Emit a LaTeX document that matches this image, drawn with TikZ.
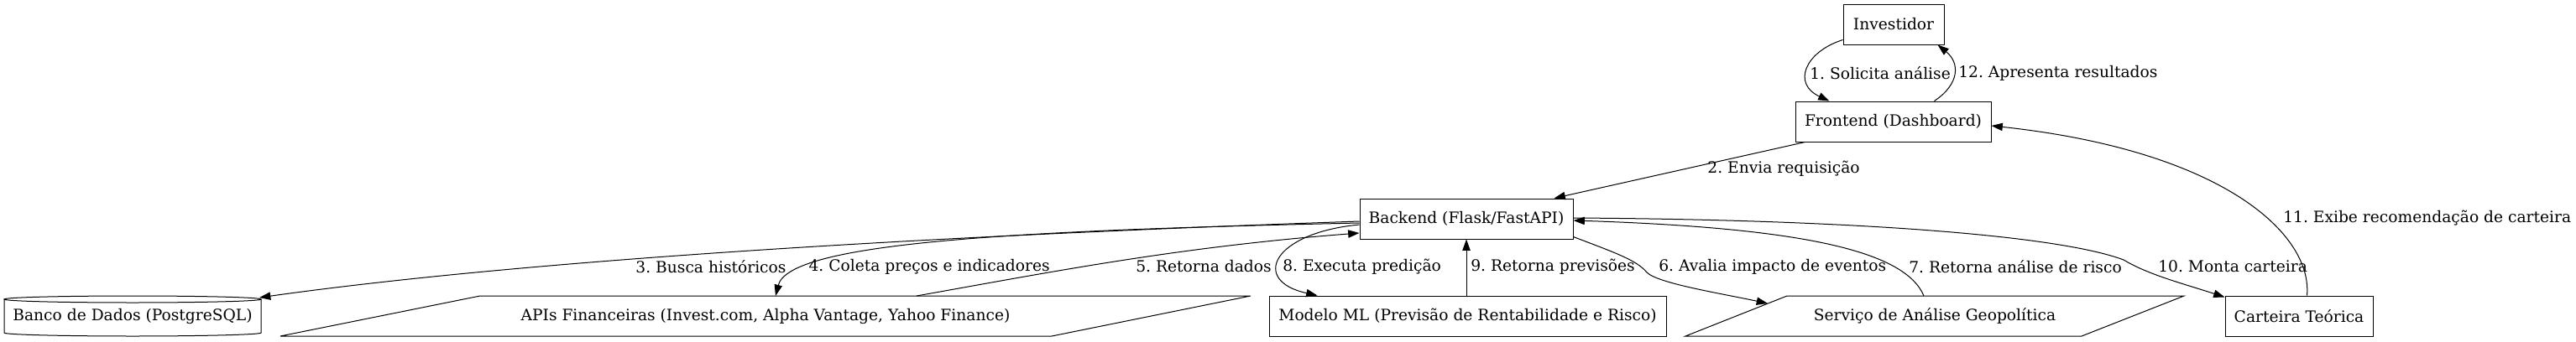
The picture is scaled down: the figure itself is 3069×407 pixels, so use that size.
\documentclass[tikz,border=0pt]{standalone}
\usepackage{fontspec}
\setmainfont{DejaVu Serif}
\usetikzlibrary{arrows.meta,calc}
\newcommand{\dgfont}{\fontsize{14pt}{16pt}\selectfont\frenchspacing}
\tikzset{
  box/.style={draw, line width=0.75pt, minimum height=36pt, inner sep=0pt, font=\dgfont},
  plain/.style={inner sep=0pt, minimum height=36pt, font=\dgfont},
  shapeline/.style={line width=0.75pt},
  lbl/.style={inner sep=0pt, font=\dgfont},
  edge/.style={line width=0.75pt, -{Triangle[length=10pt,width=7pt]}}
}
\begin{document}
\begin{tikzpicture}[x=0.75pt, y=-0.75pt]
\path[use as bounding box] (0,0) rectangle (3069,407);
% nodes
\node[box, minimum width=90pt] (inv) at (2256,29) {Investidor};
\node[box, minimum width=174.75pt] (front) at (2255.5,145) {Frontend (Dashboard)};
\node[box, minimum width=190.5pt] (back) at (1747,261) {Backend (Flask/FastAPI)};
\node[plain, minimum width=230pt] (db) at (158,377) {Banco de Dados (PostgreSQL)};
\node[plain] (api) at (912,377) {APIs Financeiras (Invest.com, Alpha Vantage, Yahoo Finance)};
\node[box, minimum width=354.75pt] (ml) at (1748.5,377) {Modelo ML (Previsão de Rentabilidade e Risco)};
\node[plain] (geo) at (2305,377) {Serviço de Análise Geopolítica};
\node[box, minimum width=132pt] (cart) at (2739,377) {Carteira Teórica};
% special shapes
\draw[shapeline] (158,357) ellipse [x radius=114.75pt, y radius=3pt];
\draw[shapeline] (5,357) -- (5,397) arc[start angle=180, end angle=360, x radius=114.75pt, y radius=3pt] -- (311,357);
\draw[shapeline] (334,401) -- (572,353) -- (1490,353) -- (1253,401) -- cycle;
\draw[shapeline] (2008,401) -- (2129,353) -- (2602,353) -- (2480,401) -- cycle;
% endpoints on drawn shapes
\coordinate (db3) at (309,355);
\coordinate (api4) at (924,353);
\coordinate (api5) at (1092,353);
\coordinate (geo6) at (2106,362);
\coordinate (geo7) at (2292,353);
% edges
\draw[edge] ($(inv.south west)+(0,-6)$) .. controls (2150,62) and (2135,100) .. ($(front.north west)+(41,0)$);
\draw[edge] ($(front.north west)+(166,0)$) .. controls (2335,100) and (2335,75) .. ($(inv.south west)+(113,0)$);
\draw[edge] ($(front.south west)+(12,0)$) -- ($(back.north east)+(-23,0)$);
\draw[edge] ($(back.west)+(0,3)$) .. controls (1300,275) and (700,300) .. (db3);
\draw[edge] ($(back.west)+(0,5)$) .. controls (1200,275) and (940,290) .. (api4);
\draw[edge] (api5) .. controls (1250,325) and (1400,295) .. ($(back.west)+(0,17)$);
\draw[edge] ($(back.west)+(0,7)$) .. controls (1515,278) and (1490,335) .. ($(ml.north west)+(58,0)$);
\draw[edge] (ml.north -| back.south) -- (back.south);
\draw[edge] ($(back.south east)+(0,-3)$) .. controls (1920,300) and (1950,310) .. (1962,325) .. controls (1975,338) and (2050,350) .. (geo6);
\draw[edge] (geo7) .. controls (2270,300) and (2150,272) .. ($(back.east)+(0,2)$);
\draw[edge] ($(back.east)+(0,-1)$) .. controls (2200,262) and (2450,280) .. (2530,310) .. controls (2560,328) and (2600,338) .. ($(cart.north west)+(0,2)$);
\draw[edge] ($(cart.north west)+(98,0)$) .. controls (2755,280) and (2650,180) .. ($(front.east)+(0,5)$);
% labels
\node[lbl, anchor=west] (l1) at (2156,87) {1. Solicita análise};
\node[lbl, anchor=west] (l12) at (2333,87) {12. Apresenta resultados};
\node[lbl] (l2) at (2125,201) {2. Envia requisição};
\node[lbl] (l3) at (847,318) {3. Busca históricos};
\node[lbl, anchor=east] (l4) at (1251,318) {4. Coleta preços e indicadores};
\node[lbl, anchor=east] (l5) at (1515,318) {5. Retorna dados};
\node[lbl, anchor=west] (l8) at (1528,318) {8. Executa predição};
\node[lbl, anchor=west] (l9) at (1752,318) {9. Retorna previsões};
\node[lbl, anchor=west] (l6) at (1976,318) {6. Avalia impacto de eventos};
\node[lbl, anchor=east] (l7) at (2528,318) {7. Retorna análise de risco};
\node[lbl, anchor=west] (l10) at (2571,318) {10. Monta carteira};
\node[lbl, anchor=west] (l11) at (2720,260) {11. Exibe recomendação de carteira};
\end{tikzpicture}
\end{document}
